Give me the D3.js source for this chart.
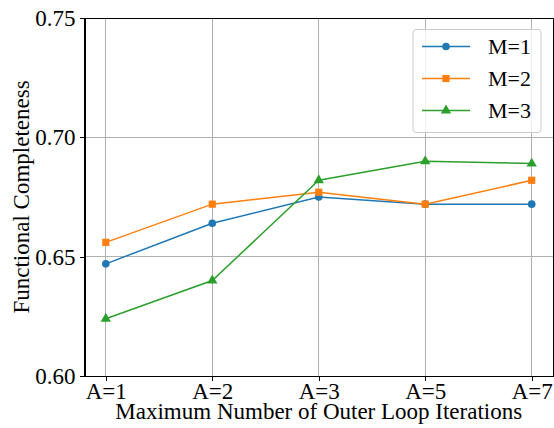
<!DOCTYPE html>
<html lang="en">
<head>
    <meta charset="UTF-8">
    <title>Functional Completeness</title>
    <script src="https://d3js.org/d3.v7.min.js"></script>
    <style>
        body {
            margin: 0;
            padding: 0;
            background: #fff;
        }
        svg {
            display: block;
        }
        .grid line {
            stroke: #b0b0b0;
            stroke-width: 1px;
            shape-rendering: crispEdges;
        }
        .axis path,
        .axis line {
            stroke: #000;
            shape-rendering: crispEdges;
        }
        .line {
            fill: none;
            stroke-width: 1.5px;
        }
    </style>
</head>
<body>
    <svg width="554" height="428"></svg>

    <script>
        const categories = ["A=1", "A=2", "A=3", "A=5", "A=7"];
        const seriesNames = ["M=1", "M=2", "M=3"];
        const m1 = [0.647, 0.664, 0.675, 0.672, 0.672];
        const m2 = [0.656, 0.672, 0.677, 0.672, 0.682];
        const m3 = [0.624, 0.640, 0.682, 0.690, 0.689];
        const yTicks = [0.60, 0.65, 0.70, 0.75];

        const colors = ["#1f77b4", "#ff7f0e", "#2ca02c"];
        const symbols = [d3.symbolCircle, d3.symbolSquare, d3.symbolTriangle];
        const symbolSizes = [46, 52, 46];
        const serif = "'Liberation Serif', 'DejaVu Serif', serif";

        const series = [m1, m2, m3].map((vals, i) => ({
            name: seriesNames[i],
            values: vals.map((v, j) => ({ cat: categories[j], value: v }))
        }));

        const margin = { top: 18, right: 1, bottom: 52, left: 84.5 };
        const width = 554 - margin.left - margin.right;
        const height = 428 - margin.top - margin.bottom;

        const svg = d3.select("svg")
            .attr("font-family", serif)
            .append("g")
            .attr("transform", `translate(${margin.left},${margin.top})`);

        // categories sit with a 5% margin on each side, like matplotlib
        const step = width / 4.4;
        const x = d3.scalePoint()
            .domain(categories)
            .range([step * 0.2, width - step * 0.2]);

        const y = d3.scaleLinear()
            .domain([0.60, 0.75])
            .range([height, 0]);

        // grid
        svg.append("g")
            .attr("class", "grid")
            .selectAll("line")
            .data(categories)
            .enter()
            .append("line")
            .attr("x1", d => x(d))
            .attr("x2", d => x(d))
            .attr("y1", 0)
            .attr("y2", height);

        svg.append("g")
            .attr("class", "grid")
            .selectAll("line")
            .data(yTicks)
            .enter()
            .append("line")
            .attr("x1", 0)
            .attr("x2", width)
            .attr("y1", d => y(d))
            .attr("y2", d => y(d));

        // axes
        svg.append("g")
            .attr("class", "axis")
            .attr("transform", `translate(0,${height})`)
            .call(d3.axisBottom(x).tickSizeInner(5).tickSizeOuter(0).tickPadding(2))
            .attr("font-family", serif)
            .attr("font-size", 23);

        svg.append("g")
            .attr("class", "axis")
            .call(d3.axisLeft(y).tickValues(yTicks).tickFormat(d3.format(".2f"))
                .tickSizeInner(5).tickSizeOuter(0).tickPadding(4))
            .attr("font-family", serif)
            .attr("font-size", 23);

        // frame
        svg.append("rect")
            .attr("x", 0)
            .attr("y", 0)
            .attr("width", width)
            .attr("height", height)
            .attr("fill", "none")
            .attr("stroke", "#000")
            .attr("stroke-width", 1)
            .attr("shape-rendering", "crispEdges");

        // lines and markers
        const line = d3.line()
            .x(d => x(d.cat))
            .y(d => y(d.value));

        series.forEach((s, i) => {
            svg.append("path")
                .datum(s.values)
                .attr("class", "line")
                .attr("stroke", colors[i])
                .attr("d", line);

            svg.selectAll(`.mk${i}`)
                .data(s.values)
                .enter()
                .append("path")
                .attr("class", `mk${i}`)
                .attr("transform", d => `translate(${x(d.cat)},${y(d.value)})`)
                .attr("d", d3.symbol().type(symbols[i]).size(symbolSizes[i]))
                .attr("fill", colors[i]);
        });

        // axis labels
        svg.append("text")
            .attr("x", width / 2)
            .attr("y", height + 43)
            .attr("text-anchor", "middle")
            .attr("font-size", 23)
            .text("Maximum Number of Outer Loop Iterations");

        svg.append("text")
            .attr("transform", `translate(${-56},${height / 2}) rotate(-90)`)
            .attr("text-anchor", "middle")
            .attr("font-size", 23)
            .text("Functional Completeness");

        // legend
        const legend = svg.append("g")
            .attr("transform", `translate(${413 - margin.left},${29.5 - margin.top})`);

        legend.append("rect")
            .attr("width", 128)
            .attr("height", 103)
            .attr("rx", 3)
            .attr("fill", "#fff")
            .attr("fill-opacity", 0.8)
            .attr("stroke", "#cccccc");

        seriesNames.forEach((name, i) => {
            const row = legend.append("g")
                .attr("transform", `translate(0,${17 + i * 32})`);
            row.append("line")
                .attr("x1", 9)
                .attr("x2", 57)
                .attr("stroke", colors[i])
                .attr("stroke-width", 1.5);
            row.append("path")
                .attr("transform", "translate(33,0)")
                .attr("d", d3.symbol().type(symbols[i]).size(symbolSizes[i]))
                .attr("fill", colors[i]);
            row.append("text")
                .attr("x", 75)
                .attr("dy", "0.35em")
                .attr("font-size", 22)
                .text(name);
        });
    </script>
</body>
</html>
